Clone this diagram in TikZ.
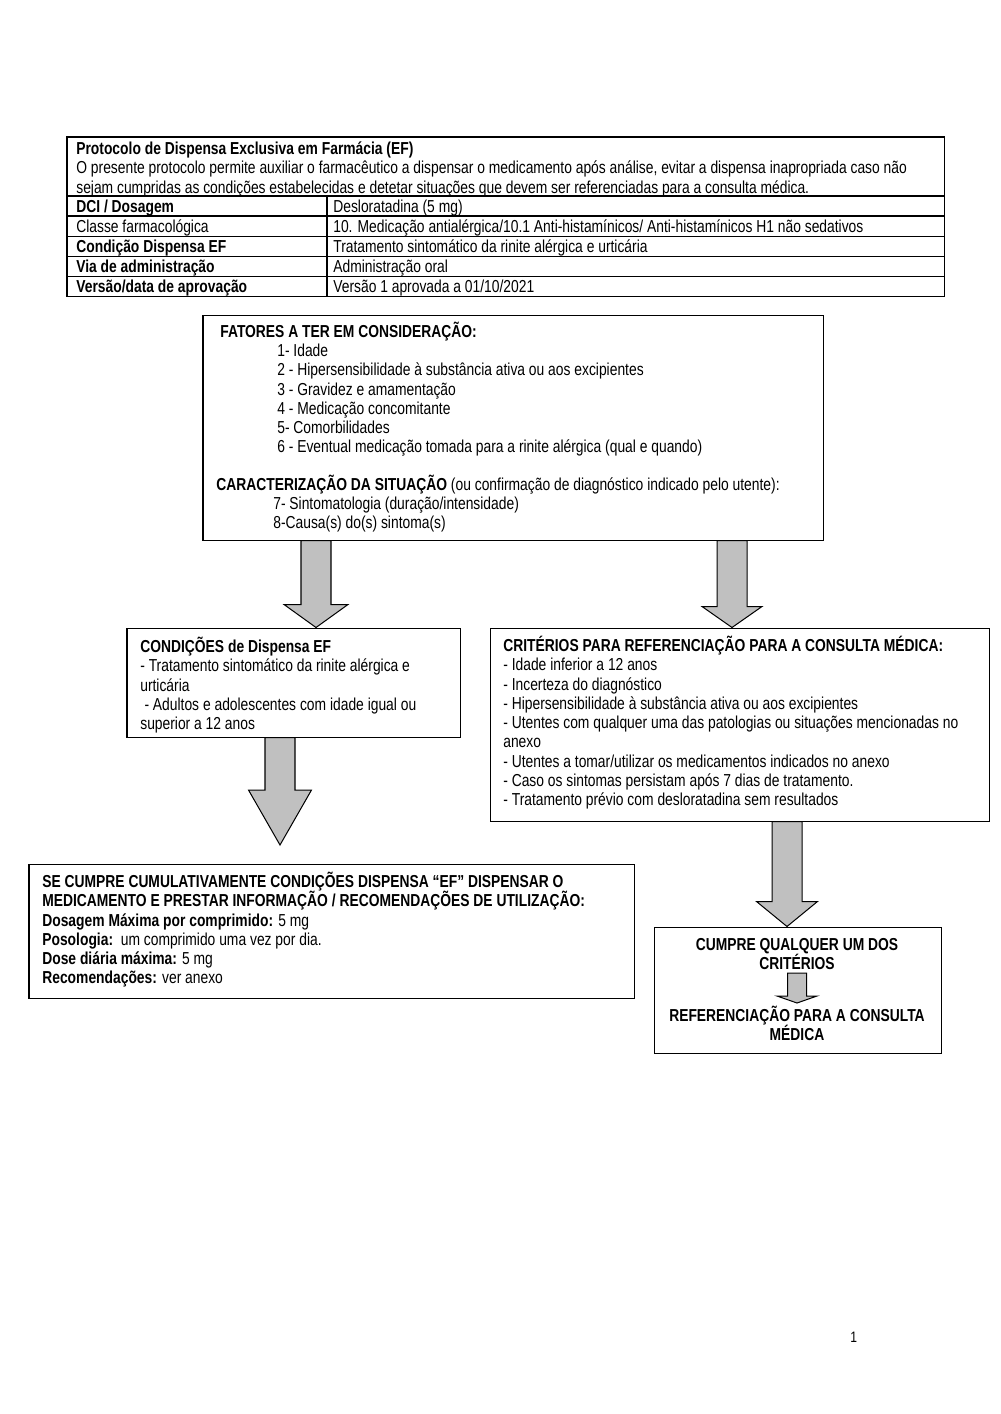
\documentclass[tikz,border=0pt]{standalone}
\usepackage{fontspec}
\setmainfont{Liberation Sans}[FakeStretch=0.80]
\usetikzlibrary{calc,fit}
\definecolor{arrowgray}{RGB}{192,192,192}
\newcommand\fl{\rule{0pt}{10pt}}
\newcommand\blkarrow[5]{\draw[blk] ($(#1)+(-#3,0)$) -- ($(#2)+(-#3,-#5)$) -- ($(#2)+(-#4,-#5)$) -- (#2) -- ($(#2)+(#4,-#5)$) -- ($(#2)+(#3,-#5)$) -- ($(#1)+(#3,0)$) -- cycle;}
\begin{document}
\begin{tikzpicture}[x=0.595pt,y=-0.595pt,
  box/.style={draw=black,line width=0.6pt,inner sep=0pt},
  tline/.style={draw=black,line width=0.6pt},
  txt/.style={inner sep=0pt,anchor=north west,align=left,font=\fontsize{10.3}{11.45}\selectfont},
  lbl/.style={inner sep=0pt,anchor=base west,font=\fontsize{10.3}{11.45}\selectfont},
  blk/.style={draw=black,line width=0.6pt,fill=arrowgray,line join=miter}]
\fill[white] (0,0) rectangle (1000,1414);
\useasboundingbox (0,0) rectangle (1000,1414);
% table
\draw[tline] (67,137) rectangle (944,296);
\foreach \yy in {196,216,236,256,276} \draw[tline] (67,\yy) -- (944,\yy);
\draw[tline] (327,196) -- (327,296);
\node[txt] (ttl) at (76,137.6) {\fl\textbf{Protocolo de Dispensa Exclusiva em Farmácia (EF)}\\O presente protocolo permite auxiliar o farmacêutico a dispensar o medicamento após análise, evitar a dispensa inapropriada caso não\\sejam cumpridas as condições estabelecidas e detetar situações que devem ser referenciadas para a consulta médica.};
\node[lbl] (r1a) at (76,212) {\textbf{DCI / Dosagem}};
\node[lbl] (r1b) at (333,212) {Desloratadina (5 mg)};
\node[lbl] (r2a) at (76,232) {Classe farmacológica};
\node[lbl] (r2b) at (333,232) {10. Medicação antialérgica/10.1 Anti-histamínicos/ Anti-histamínicos H1 não sedativos};
\node[lbl] (r3a) at (76,252) {\textbf{Condição Dispensa EF}};
\node[lbl] (r3b) at (333,252) {Tratamento sintomático da rinite alérgica e urticária};
\node[lbl] (r4a) at (76,272) {\textbf{Via de administração}};
\node[lbl] (r4b) at (333,272) {Administração oral};
\node[lbl] (r5a) at (76,292) {\textbf{Versão/data de aprovação}};
\node[lbl] (r5b) at (333,292) {Versão 1 aprovada a 01/10/2021};
% fatores
\node[box,fit={(203,315) (823,540)}] (fat) {};
\node[txt] (fath) at (220,320.4) {\fl\textbf{FATORES A TER EM CONSIDERAÇÃO:}};
\node[txt] (fati) at (277,339.4) {\fl 1- Idade\\2 - Hipersensibilidade à substância ativa ou aos excipientes\\3 - Gravidez e amamentação\\4 - Medicação concomitante\\5- Comorbilidades\\6 - Eventual medicação tomada para a rinite alérgica (qual e quando)};
\node[txt] (carh) at (216,473.4) {\fl\textbf{CARACTERIZAÇÃO DA SITUAÇÃO} (ou confirmação de diagnóstico indicado pelo utente):};
\node[txt] (cari) at (273,492.4) {\fl 7- Sintomatologia (duração/intensidade)\\8-Causa(s) do(s) sintoma(s)};
% condicoes
\node[box,fit={(127,628) (460,737)}] (cond) {};
\node[txt] (condt) at (140,635.4) {\fl\textbf{CONDIÇÕES de Dispensa EF}\\- Tratamento sintomático da rinite alérgica e\\urticária\\\hspace*{2.5pt}- Adultos e adolescentes com idade igual ou\\superior a 12 anos};
% criterios
\node[box,fit={(490,628) (989,821)}] (crit) {};
\node[txt] (critt) at (503,634.4) {\fl\textbf{CRITÉRIOS PARA REFERENCIAÇÃO PARA A CONSULTA MÉDICA:}\\- Idade inferior a 12 anos\\- Incerteza do diagnóstico\\- Hipersensibilidade à substância ativa ou aos excipientes\\- Utentes com qualquer uma das patologias ou situações mencionadas no\\anexo\\- Utentes a tomar/utilizar os medicamentos indicados no anexo\\- Caso os sintomas persistam após 7 dias de tratamento.\\- Tratamento prévio com desloratadina sem resultados};
% dispensa
\node[box,fit={(29,864) (634,998)}] (disp) {};
\node[txt] (dispt) at (42,870.4) {\fl\textbf{SE CUMPRE CUMULATIVAMENTE CONDIÇÕES DISPENSA “EF” DISPENSAR O}\\\textbf{MEDICAMENTO E PRESTAR INFORMAÇÃO / RECOMENDAÇÕES DE UTILIZAÇÃO:}\\\textbf{Dosagem Máxima por comprimido:} 5 mg\\\textbf{Posologia:}\ \ um comprimido uma vez por dia.\\\textbf{Dose diária máxima:} 5 mg\\\textbf{Recomendações:} ver anexo};
% cumpre
\node[box,fit={(654,927) (941,1053)}] (cum) {};
\node[txt,anchor=north,align=center] (cumt) at (797,933.4) {\fl\textbf{CUMPRE QUALQUER UM DOS}\\\textbf{CRITÉRIOS}};
\node[txt,anchor=north,align=center] (reft) at (797,1004.4) {\fl\textbf{REFERENCIAÇÃO PARA A CONSULTA}\\\textbf{MÉDICA}};
% arrows
\coordinate (a1s) at (fat.south -| 316,0);
\coordinate (a1t) at (cond.north -| 316,0);
\blkarrow{a1s}{a1t}{15}{32}{23}
\coordinate (a2s) at (fat.south -| 732,0);
\coordinate (a2t) at (crit.north -| 732,0);
\blkarrow{a2s}{a2t}{15}{30}{21}
\coordinate (a3s) at (cond.south -| 280,0);
\coordinate (a3t) at (280,845);
\blkarrow{a3s}{a3t}{15}{31.5}{55}
\coordinate (a4s) at (crit.south -| 787,0);
\coordinate (a4t) at (cum.north -| 787,0);
\blkarrow{a4s}{a4t}{15}{30.5}{25}
\coordinate (a5s) at (797,973);
\coordinate (a5t) at (797,1003);
\blkarrow{a5s}{a5t}{9.5}{20}{7}
\node[lbl,font=\fontsize{9}{10}\selectfont] (pg) at (850,1342) {1};
\end{tikzpicture}
\end{document}
